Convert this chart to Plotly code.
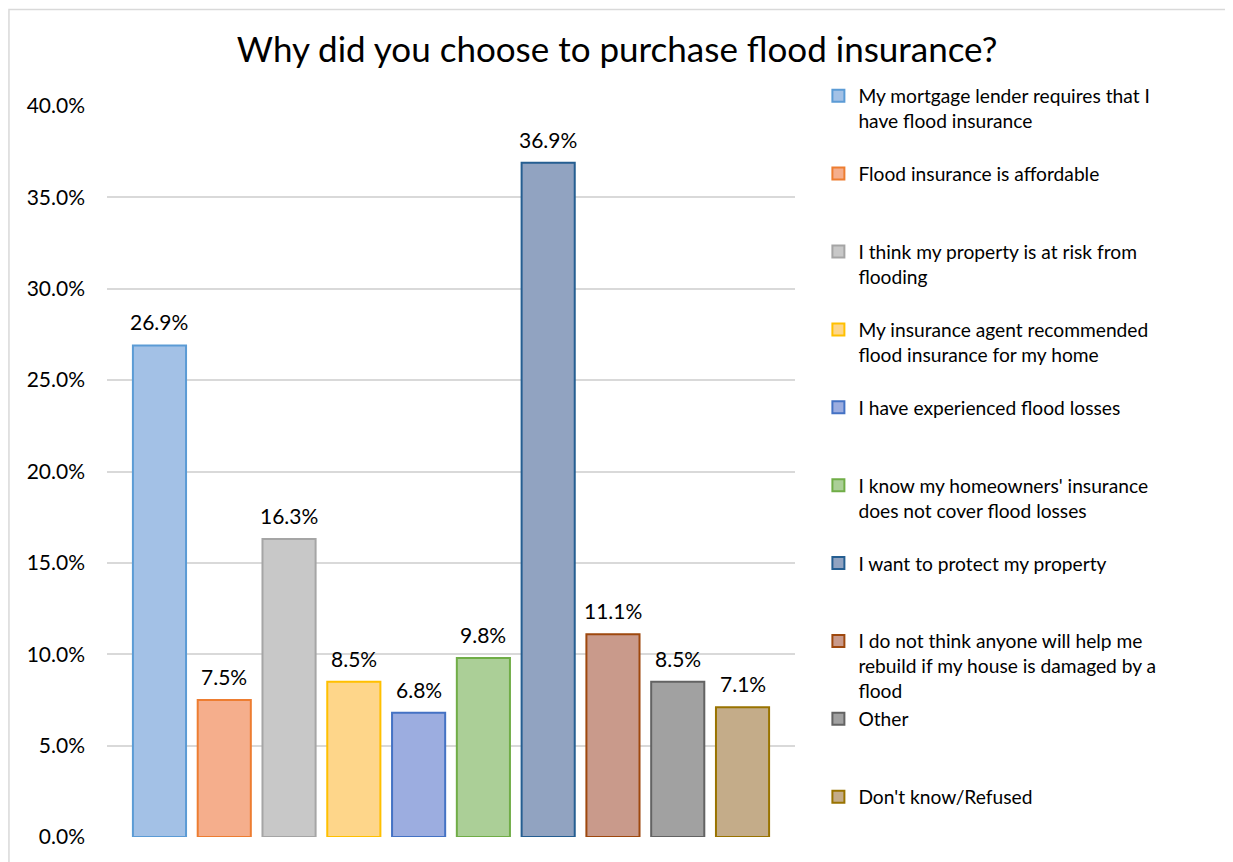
import plotly.graph_objects as go

# survey answers, in the order they appear in the chart
reasons = [
    "My mortgage lender requires that I<br>have flood insurance",
    "Flood insurance is affordable",
    "I think my property is at risk from<br>flooding",
    "My insurance agent recommended<br>flood insurance for my home",
    "I have experienced flood losses",
    "I know my homeowners' insurance<br>does not cover flood losses",
    "I want to protect my property",
    "I do not think anyone will help me<br>rebuild if my house is damaged by a<br>flood",
    "Other",
    "Don't know/Refused",
]
shares = [0.269, 0.075, 0.163, 0.085, 0.068, 0.098, 0.369, 0.111, 0.085, 0.071]

fills = ["#a3c1e6", "#f5ae8c", "#c8c8c8", "#fed68a", "#9cade0",
         "#abcf97", "#91a3c1", "#c99a8b", "#a1a1a1", "#c4ac89"]
edges = ["#5b9bd5", "#ed7d31", "#a5a5a5", "#ffc000", "#4472c4",
         "#70ad47", "#255e91", "#9e480e", "#636363", "#997300"]

FONT = "Lato"

fig = go.Figure()
labels = []
for i, (name, val) in enumerate(zip(reasons, shares)):
    # pad legend text to 3 lines so entries are evenly spaced
    n = name.count("<br>") + 1
    label = name + "<br> " * (3 - n)
    fig.add_trace(go.Bar(
        x=[i], y=[val], name=label, width=0.82,
        marker=dict(color=fills[i], line=dict(color=edges[i], width=2)),
        cliponaxis=False, legendgroup=str(i),
    ))
    labels.append(dict(x=i, y=val, text=f"{val*100:.1f}%", showarrow=False,
                       xref="x", yref="y", yanchor="bottom", yshift=9,
                       font=dict(size=21, family=FONT, color="#000000")))

fig.update_layout(
    width=1233, height=862,
    margin=dict(l=99, r=446, t=98, b=33),
    paper_bgcolor="white", plot_bgcolor="white",
    barmode="overlay",
    font=dict(family=FONT, color="#000000"),
    title=dict(text="Why did you choose to purchase flood insurance?",
               x=0.494, xref="container", y=0.951, yref="container",
               xanchor="center", yanchor="middle",
               font=dict(size=35, family=FONT, color="#000000")),
    legend=dict(x=1.034, xanchor="left", y=1.04, yanchor="top",
                valign="top", tracegroupgap=0, maxheight=850,
                font=dict(size=19.2, family=FONT, color="#000000")),
    xaxis=dict(range=[-0.81, 9.81], showticklabels=False, showgrid=False,
               zeroline=False, showline=False, ticks=""),
    yaxis=dict(range=[0, 0.40], dtick=0.05, tickformat=".1%",
               showgrid=True, gridcolor="#d9d9d9", gridwidth=1.5,
               zeroline=False, showline=False, ticks="",
               ticklabelstandoff=21,
               tickfont=dict(size=21, family=FONT, color="#000000")),
    annotations=labels,
    shapes=[dict(type="rect", xref="paper", yref="paper",
                 x0=-0.1425, x1=1.6337, y0=-0.06, y1=1.132,
                 line=dict(color="#d9d9d9", width=1.5), layer="below")],
)

fig.write_html("out.html")
